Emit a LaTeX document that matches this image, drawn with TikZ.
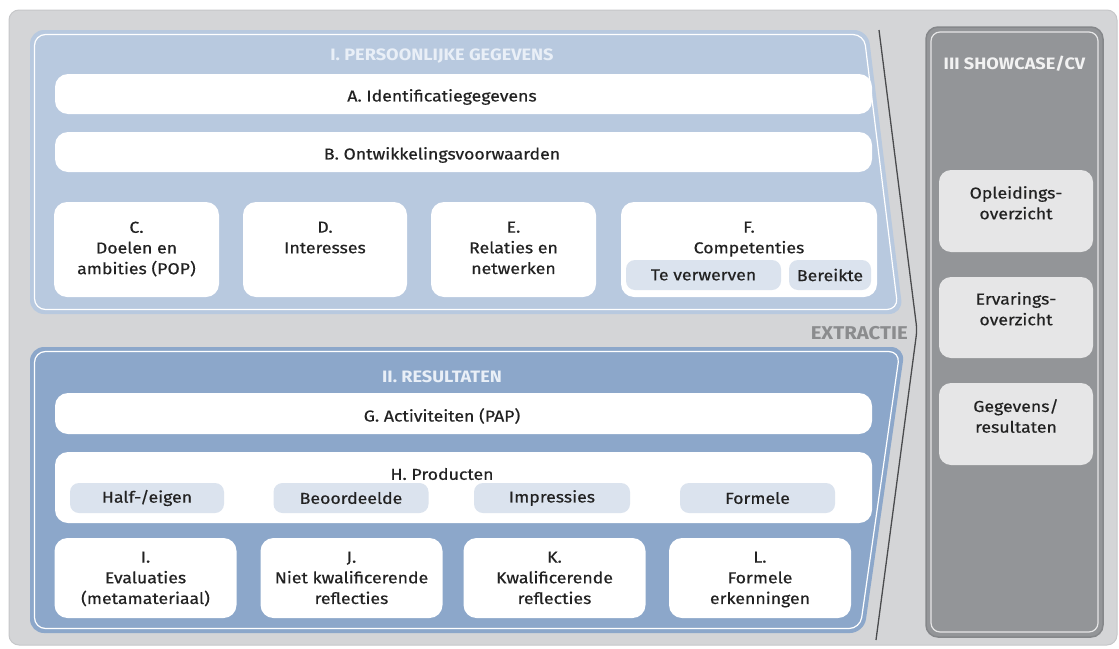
\documentclass[tikz,border=0pt]{standalone}
\usepackage{fontspec}
\setmainfont{Fira Sans}[FakeStretch=1.12, FakeBold=0.5]
\newfontfamily\headfont{Fira Sans}[FakeStretch=1.1]
\definecolor{bggrey}{HTML}{D4D5D7}
\definecolor{bgedge}{HTML}{C6C7C9}
\definecolor{pone}{HTML}{B8C9DF}
\definecolor{ptwo}{HTML}{8CA7CA}
\definecolor{pthree}{HTML}{939598}
\definecolor{pthreeedge}{HTML}{85878A}
\definecolor{pillblue}{HTML}{DBE3EE}
\definecolor{boxgrey}{HTML}{E6E6E7}
\definecolor{txt}{HTML}{222222}
\definecolor{titleblue}{HTML}{E9EFF7}
\definecolor{titlegrey}{HTML}{F2F2F2}
\definecolor{extr}{HTML}{8B8C8E}
\definecolor{sepline}{HTML}{4A4B4D}
\begin{document}
\begin{tikzpicture}[x=1pt,y=-1pt,
  wbox/.style={fill=white, rounded corners=13pt, inner sep=0pt},
  pill/.style={fill=pillblue, rounded corners=9pt, inner sep=0pt, text=txt,
    font=\fontsize{15.8}{18}\selectfont},
  gbox/.style={fill=boxgrey, rounded corners=12pt, inner sep=0pt},
  lbl/.style={font=\fontsize{15.8}{20.7}\selectfont, text=txt, align=center, inner sep=0pt},
  title/.style={font=\headfont\bfseries\fontsize{16.5}{19}\selectfont, inner sep=0pt},
  inline/.style={draw=white, line width=1.2pt}
]
\useasboundingbox (0,0) rectangle (1119,648);

% outer frame
\path[fill=bggrey, draw=bgedge, line width=1pt, rounded corners=10pt] (9,10) rectangle (1117,645);

% panel I
\path[fill=pone, rounded corners=14pt] (30,30) -- (868,30) -- (903,314) -- (30,314) -- cycle;
\draw[inline, rounded corners=11pt] (34.5,34.5) -- (864,34.5) -- (898,309.5) -- (34.5,309.5) -- cycle;
\node[title, text=titleblue] (t1) at (442,56) {I. PERSOONLIJKE GEGEVENS};

\node[wbox, minimum width=817, minimum height=40] (A) at (463.5,94) {};
\node[lbl] (Atext) at (442,97) {A. Identificatiegegevens};
\node[wbox, minimum width=817, minimum height=40] (B) at (463.5,152) {};
\node[lbl] (Btext) at (442,155) {B. Ontwikkelingsvoorwaarden};

\node[wbox, minimum width=165, minimum height=95] (C) at (136.5,249.5) {};
\node[wbox, minimum width=164, minimum height=95] (D) at (325,249.5) {};
\node[wbox, minimum width=165, minimum height=95] (E) at (513.5,249.5) {};
\node[wbox, minimum width=256, minimum height=95] (F) at (749,249.5) {};
\node[lbl, anchor=north] (Ctext) at (136.5,221.5) {C.\\Doelen en\\ambities (POP)};
\node[lbl, anchor=north] (Dtext) at (325,221.5) {D.\\Interesses};
\node[lbl, anchor=north] (Etext) at (513.5,221.5) {E.\\Relaties en\\netwerken};
\node[lbl, anchor=north] (Ftext) at (749,221.5) {F.\\Competenties};
\node[pill, minimum width=155, minimum height=30] (F1) at (703.5,275) {Te verwerven};
\node[pill, minimum width=82, minimum height=30] (F2) at (830,275) {Bereikte};

% panel II
\path[fill=ptwo, rounded corners=14pt] (30,347) -- (905,347) -- (864,633) -- (30,633) -- cycle;
\draw[inline, rounded corners=11pt] (34.5,351.5) -- (899.8,351.5) -- (860.1,628.5) -- (34.5,628.5) -- cycle;
\node[title, text=titleblue] (t2) at (442,377) {II. RESULTATEN};

\node[wbox, minimum width=817, minimum height=41] (G) at (463.5,413.5) {};
\node[lbl] (Gtext) at (442,416) {G. Activiteiten (PAP)};
\node[wbox, minimum width=817, minimum height=71] (H) at (463.5,487.5) {};
\node[lbl] (Htext) at (442,474) {H. Producten};
\node[pill, minimum width=154, minimum height=30] (H1) at (147,498) {Half-/eigen};
\node[pill, minimum width=155, minimum height=30] (H2) at (351,498) {Beoordeelde};
\node[pill, minimum width=156, minimum height=30] (H3) at (552,498) {Impressies};
\node[pill, minimum width=155, minimum height=30] (H4) at (757.5,498) {Formele};

\node[wbox, minimum width=182, minimum height=80] (I) at (145.5,578) {};
\node[wbox, minimum width=182, minimum height=80] (J) at (351.5,578) {};
\node[wbox, minimum width=182, minimum height=80] (K) at (554.5,578) {};
\node[wbox, minimum width=182, minimum height=80] (L) at (760,578) {};
\node[lbl, anchor=north] (Itext) at (145.5,551.5) {I.\\Evaluaties\\(metamateriaal)};
\node[lbl, anchor=north] (Jtext) at (351.5,551.5) {J.\\Niet kwalificerende\\reflecties};
\node[lbl, anchor=north] (Ktext) at (554.5,551.5) {K.\\Kwalificerende\\reflecties};
\node[lbl, anchor=north] (Ltext) at (760,551.5) {L.\\Formele\\erkenningen};

% extraction chevron
\draw[sepline, line width=1.3pt, rounded corners=6pt] (879,30) -- (917,330) -- (876,640);
\node[title, text=extr, anchor=east, font=\headfont\bfseries\fontsize{18.5}{21}\selectfont] (extr) at (908,333) {EXTRACTIE};

% panel III
\path[fill=pthree, draw=pthreeedge, line width=1.5pt, rounded corners=12pt] (926,27) rectangle (1103,637);
\draw[draw=boxgrey, line width=1.2pt, rounded corners=9pt] (931,32) rectangle (1098,632);
\node[title, text=titlegrey] (t3) at (1014.5,64) {III SHOWCASE/CV};
\node[gbox, minimum width=154, minimum height=82] (O) at (1016,211) {};
\node[gbox, minimum width=154, minimum height=81] (Ev) at (1016,317.5) {};
\node[gbox, minimum width=154, minimum height=82] (Ge) at (1016,424) {};
\node[lbl, anchor=north] (Otext) at (1016,186) {Opleidings-\\overzicht};
\node[lbl, anchor=north] (Evtext) at (1016,292) {Ervarings-\\overzicht};
\node[lbl, anchor=north] (Getext) at (1016,399) {Gegevens/\\resultaten};
\end{tikzpicture}
\end{document}
